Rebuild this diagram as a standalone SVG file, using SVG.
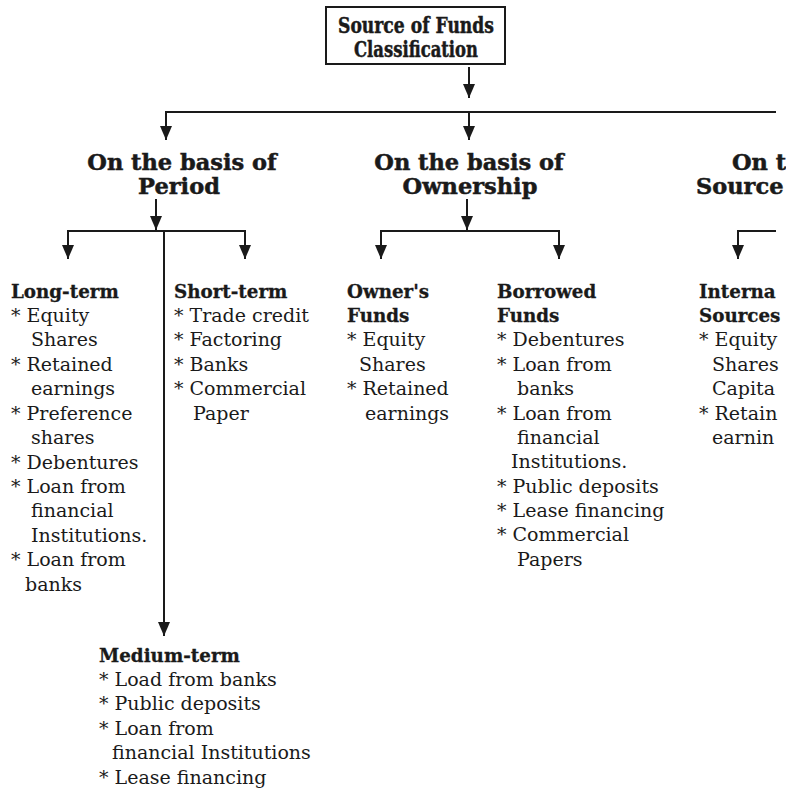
<svg xmlns="http://www.w3.org/2000/svg" width="786" height="789" viewBox="0 0 786 789">
  <style>
    text { font-family: "DejaVu Serif", "Liberation Serif", serif; fill: #1a1a1a; }
    .title { font-size: 21.5px; font-weight: bold; text-anchor: middle; stroke: #1a1a1a; stroke-width: 0.5; }
    .head { font-size: 22.5px; font-weight: bold; stroke: #1a1a1a; stroke-width: 0.5; }
    .mid { text-anchor: middle; }
    .sub { font-size: 18.3px; font-weight: bold; stroke: #1a1a1a; stroke-width: 0.3; }
    .item { font-size: 19px; }
    .wire { stroke: #1a1a1a; stroke-width: 2; fill: none; }
    .arrow { marker-end: url(#tip); }
  </style>
  <defs>
    <marker id="tip" markerUnits="userSpaceOnUse" markerWidth="14" markerHeight="12" refX="14" refY="6" orient="auto">
      <path d="M0,0 L14,6 L0,12 z" fill="#1a1a1a"/>
    </marker>
  </defs>

  <rect width="786" height="789" fill="#ffffff"/>

  <!-- root -->
  <g id="root">
    <rect x="326" y="7" width="179" height="57" fill="#ffffff" stroke="#1a1a1a" stroke-width="2"/>
    <text class="title" x="416" y="33" textLength="156" lengthAdjust="spacingAndGlyphs">Source of Funds</text>
    <text class="title" x="416" y="57" textLength="124" lengthAdjust="spacingAndGlyphs">Classification</text>
  </g>

  <!-- connectors -->
  <g id="connectors">
    <line class="wire arrow" x1="469" y1="67" x2="469" y2="98"/>
    <line class="wire" x1="166" y1="112" x2="776" y2="112"/>
    <line class="wire arrow" x1="166" y1="111" x2="166" y2="140"/>
    <line class="wire arrow" x1="469" y1="112" x2="469" y2="140"/>

    <!-- period branch -->
    <line class="wire arrow" x1="156" y1="199" x2="156" y2="230"/>
    <line class="wire" x1="67" y1="231" x2="246" y2="231"/>
    <line class="wire arrow" x1="68" y1="230" x2="68" y2="259"/>
    <line class="wire arrow" x1="245" y1="230" x2="245" y2="259"/>
    <line class="wire arrow" x1="164" y1="231" x2="164" y2="636"/>

    <!-- ownership branch -->
    <line class="wire arrow" x1="467" y1="199" x2="467" y2="230"/>
    <line class="wire" x1="380" y1="231" x2="560" y2="231"/>
    <line class="wire arrow" x1="381" y1="230" x2="381" y2="259"/>
    <line class="wire arrow" x1="559" y1="230" x2="559" y2="259"/>

    <!-- source branch -->
    <line class="wire" x1="737" y1="231" x2="776" y2="231"/>
    <line class="wire arrow" x1="738" y1="230" x2="738" y2="259"/>
  </g>

  <!-- second-level headings -->
  <g id="period">
    <text class="head mid" x="182" y="170">On the basis of</text>
    <text class="head mid" x="179" y="194">Period</text>
  </g>
  <g id="ownership">
    <text class="head mid" x="469" y="170">On the basis of</text>
    <text class="head mid" x="470" y="194">Ownership</text>
  </g>
  <g id="source">
    <text class="head" x="732" y="170">On t</text>
    <text class="head" x="696" y="194">Source</text>
  </g>

  <!-- leaves -->
  <g id="long-term">
    <text class="sub" x="11" y="298">Long-term</text>
    <text class="item" x="11" y="322">* Equity</text>
    <text class="item" x="31" y="346">Shares</text>
    <text class="item" x="11" y="371">* Retained</text>
    <text class="item" x="31" y="395">earnings</text>
    <text class="item" x="11" y="420">* Preference</text>
    <text class="item" x="31" y="444">shares</text>
    <text class="item" x="11" y="469">* Debentures</text>
    <text class="item" x="11" y="493">* Loan from</text>
    <text class="item" x="31" y="517">financial</text>
    <text class="item" x="31" y="542">Institutions.</text>
    <text class="item" x="11" y="566">* Loan from</text>
    <text class="item" x="25" y="591">banks</text>
  </g>

  <g id="short-term">
    <text class="sub" x="174" y="298">Short-term</text>
    <text class="item" x="174" y="322">* Trade credit</text>
    <text class="item" x="174" y="346">* Factoring</text>
    <text class="item" x="174" y="371">* Banks</text>
    <text class="item" x="174" y="395">* Commercial</text>
    <text class="item" x="193" y="420">Paper</text>
  </g>

  <g id="medium-term">
    <text class="sub" x="99" y="662">Medium-term</text>
    <text class="item" x="99" y="686">* Load from banks</text>
    <text class="item" x="99" y="710">* Public deposits</text>
    <text class="item" x="99" y="735">* Loan from</text>
    <text class="item" x="112" y="759">financial Institutions</text>
    <text class="item" x="99" y="784">* Lease financing</text>
  </g>

  <g id="owners-funds">
    <text class="sub" x="347" y="298">Owner's</text>
    <text class="sub" x="347" y="322">Funds</text>
    <text class="item" x="347" y="346">* Equity</text>
    <text class="item" x="359" y="371">Shares</text>
    <text class="item" x="347" y="395">* Retained</text>
    <text class="item" x="365" y="420">earnings</text>
  </g>

  <g id="borrowed-funds">
    <text class="sub" x="497" y="298">Borrowed</text>
    <text class="sub" x="497" y="322">Funds</text>
    <text class="item" x="497" y="346">* Debentures</text>
    <text class="item" x="497" y="371">* Loan from</text>
    <text class="item" x="517" y="395">banks</text>
    <text class="item" x="497" y="420">* Loan from</text>
    <text class="item" x="517" y="444">financial</text>
    <text class="item" x="511" y="468">Institutions.</text>
    <text class="item" x="497" y="493">* Public deposits</text>
    <text class="item" x="497" y="517">* Lease financing</text>
    <text class="item" x="497" y="541">* Commercial</text>
    <text class="item" x="517" y="566">Papers</text>
  </g>

  <g id="internal-sources">
    <text class="sub" x="699" y="298">Interna</text>
    <text class="sub" x="699" y="322">Sources</text>
    <text class="item" x="699" y="346">* Equity</text>
    <text class="item" x="712" y="371">Shares</text>
    <text class="item" x="712" y="395">Capita</text>
    <text class="item" x="699" y="420">* Retain</text>
    <text class="item" x="712" y="444">earnin</text>
  </g>
</svg>
